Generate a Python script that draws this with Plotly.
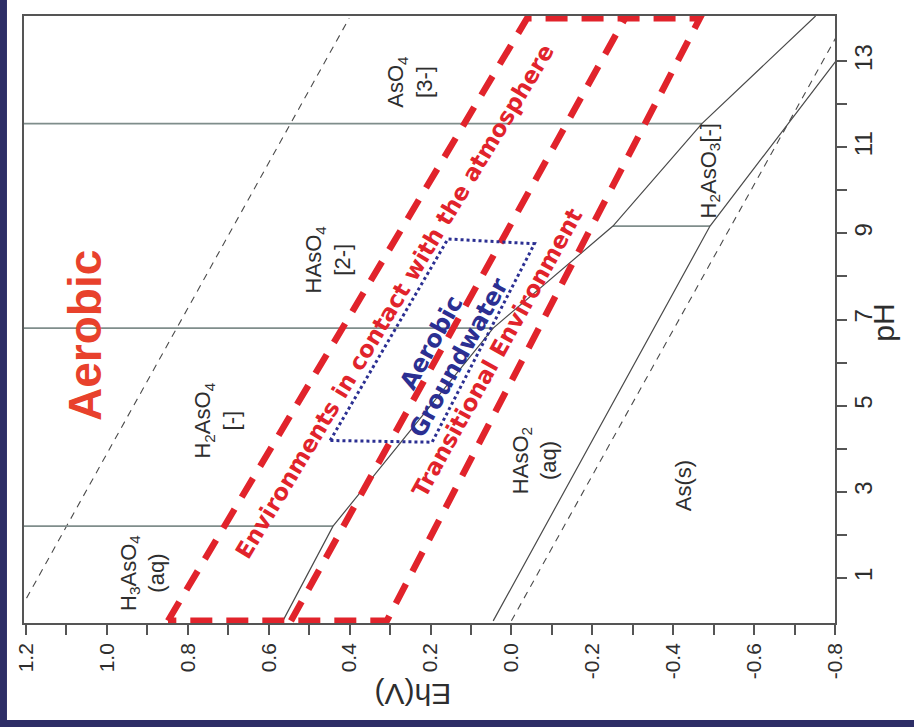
import plotly.graph_objects as go

# ---- axes ----
eh_ticks = [1.2, 1.0, 0.8, 0.6, 0.4, 0.2, 0.0, -0.2, -0.4, -0.6, -0.8]
eh_labels = ["1.2", "1.0", "0.8", "0.6", "0.4", "0.2", "0.0", "-0.2", "-0.4", "-0.6", "-0.8"]
eh_minor = [1.1, 0.9, 0.7, 0.5, 0.3, 0.1, -0.1, -0.3, -0.5, -0.7]
ph_ticks = [1, 3, 5, 7, 9, 11, 13]
ph_labels = ["1", "3", "5", "7", "9", "11", "13"]
ph_minor = [2, 4, 6, 8, 10, 12]

# ---- stability field boundaries (pH, Eh) ----
water_upper_ph = [0, 14]
water_upper_eh = [1.23, 0.401]
water_lower_ph = [0, 14]
water_lower_eh = [0.0, -0.829]

redox_ph = [0, 2.2, 6.8, 9.17, 11.55, 14.05]
redox_eh = [0.565, 0.441, 0.045, -0.251, -0.471, -0.752]

native_ph = [0, 9.17, 13.05]
native_eh = [0.045, -0.491, -0.806]

# acid dissociation boundaries (constant pH)
pk_ph = [2.2, 6.8, 11.55, 9.17]
pk_eh_start = [1.205, 1.205, 1.205, -0.251]
pk_eh_end = [0.441, 0.045, -0.471, -0.491]

# ---- environment envelopes ----
outer_ph = [0, 14, 14, 0, 0]
outer_eh = [0.849, -0.039, -0.466, 0.308, 0.849]
divider_ph = [0, 14]
divider_eh = [0.545, -0.281]

gw_ph = [4.19, 8.87, 8.76, 4.15, 4.19]
gw_eh = [0.448, 0.157, -0.057, 0.196, 0.448]

# ---- labels ----
species_text = ["H<sub>3</sub>AsO<sub>4</sub><br>(aq)",
                "H<sub>2</sub>AsO<sub>4</sub><br>[-]",
                "HAsO<sub>4</sub><br>[2-]",
                "AsO<sub>4</sub><br>[3-]",
                "HAsO<sub>2</sub><br>(aq)",
                "As(s)",
                "H<sub>2</sub>AsO<sub>3</sub>[-]"]
species_eh = [0.911, 0.728, 0.453, 0.251, -0.058, -0.424, -0.491]
species_ph = [1.11, 4.65, 8.4, 12.52, 3.73, 3.15, 10.44]

env_text = ["<b>Environments in contact with the atmosphere</b>",
            "<b>Transitional Environment</b>"]
env_eh = [0.288, 0.036]
env_ph = [7.43, 6.23]

LINE = "#4a4a4a"
PK = "#7f8d8b"
RED = "#e1232b"
BLUE = "#2b2f92"
TXT = "#2e2e2e"

fig = go.Figure()

fig.add_trace(go.Scatter(x=water_upper_eh, y=water_upper_ph, mode="lines",
                         line=dict(color=LINE, width=1.1, dash="7px,6px")))
fig.add_trace(go.Scatter(x=water_lower_eh, y=water_lower_ph, mode="lines",
                         line=dict(color=LINE, width=1.1, dash="7px,6px")))

for p, e0, e1 in zip(pk_ph, pk_eh_start, pk_eh_end):
    fig.add_trace(go.Scatter(x=[e0, e1], y=[p, p], mode="lines",
                             line=dict(color=PK, width=1.6)))

fig.add_trace(go.Scatter(x=redox_eh, y=redox_ph, mode="lines",
                         line=dict(color=LINE, width=1.2)))
fig.add_trace(go.Scatter(x=native_eh, y=native_ph, mode="lines",
                         line=dict(color=LINE, width=1.2)))

fig.add_trace(go.Scatter(x=outer_eh, y=outer_ph, mode="lines",
                         line=dict(color=RED, width=6.5, dash="22px,14px")))
fig.add_trace(go.Scatter(x=divider_eh, y=divider_ph, mode="lines",
                         line=dict(color=RED, width=6.5, dash="22px,14px")))

fig.add_trace(go.Scatter(x=gw_eh, y=gw_ph, mode="lines",
                         line=dict(color=BLUE, width=3, dash="3px,3px")))

annotations = []
for t, e, p in zip(species_text, species_eh, species_ph):
    annotations.append(dict(x=e, y=p, xref="x", yref="y", text=t, showarrow=False,
                            textangle=-90, align="center",
                            font=dict(family="Liberation Sans", size=22, color=TXT)))

for t, e, p, ang in zip(env_text, env_eh, env_ph, [-59, -61]):
    annotations.append(dict(x=e, y=p, xref="x", yref="y", text=t, showarrow=False,
                            textangle=ang,
                            font=dict(family="DejaVu Sans", size=23, color=RED)))

annotations.append(dict(x=0.164, y=6.27, xref="x", yref="y",
                        text="<b>Aerobic</b><br><b>Groundwater</b>", showarrow=False,
                        textangle=-61, align="center",
                        font=dict(family="DejaVu Sans", size=24, color=BLUE)))

annotations.append(dict(x=1.054, y=6.62, xref="x", yref="y", text="<b>Aerobic</b>",
                        showarrow=False, textangle=-90,
                        font=dict(family="Liberation Sans", size=46, color="#e8412c")))

annotations.append(dict(x=0.243, y=-0.148, xref="x", yref="paper", text="Eh(V)",
                        showarrow=False, textangle=180,
                        font=dict(family="Liberation Sans", size=30, color=TXT)))
annotations.append(dict(x=1.083, y=6.92, xref="paper", yref="y", text="pH",
                        showarrow=False, textangle=-90,
                        font=dict(family="Liberation Sans", size=30, color=TXT)))

tick_style = dict(ticks="outside", ticklen=10, tickwidth=1.5, tickcolor="#555")

fig.update_layout(
    width=914, height=727,
    margin=dict(l=24, r=79, t=16, b=104),
    paper_bgcolor="#2d2e66",
    plot_bgcolor="white",
    showlegend=False,
    annotations=annotations,
    shapes=[dict(type="rect", xref="paper", yref="paper", x0=-0.021, x1=1.2,
                 y0=-0.1598, y1=1.2, fillcolor="white", line=dict(width=0),
                 layer="below")],
    xaxis=dict(range=[1.205, -0.8], tickvals=eh_ticks, ticktext=eh_labels,
               tickangle=-90, **tick_style,
               minor=dict(tickvals=eh_minor, **tick_style),
               showline=True, mirror=True, linecolor="#555",
               linewidth=1.5, showgrid=False, zeroline=False,
               tickfont=dict(family="Liberation Sans", size=21, color=TXT)),
    yaxis=dict(range=[-0.05, 14.05], side="right", tickvals=ph_ticks, ticktext=ph_labels,
               tickangle=-90, **tick_style, ticklabelstandoff=-4,
               minor=dict(tickvals=ph_minor, **tick_style),
               showline=True, mirror=True, linecolor="#555",
               linewidth=1.5, showgrid=False, zeroline=False,
               tickfont=dict(family="Liberation Sans", size=24, color=TXT)),
)

fig.write_html("out.html")
